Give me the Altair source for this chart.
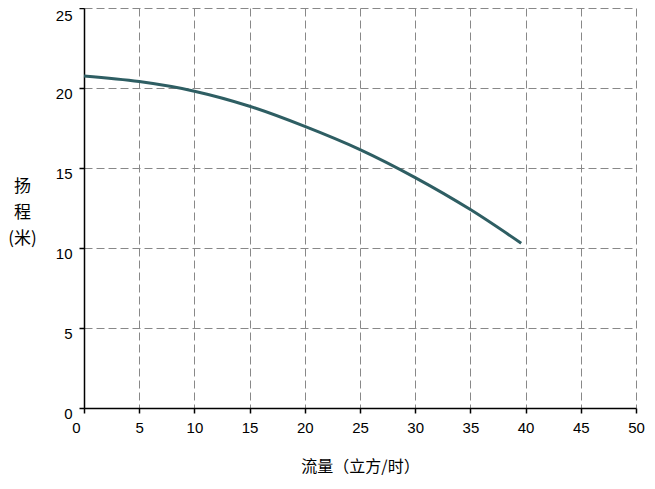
import altair as alt
import pandas as pd

flow = [0, 5, 10, 15, 20, 25, 30, 35, 39.6]
head = [20.75, 20.4, 19.8, 18.86, 17.6, 16.15, 14.4, 12.4, 10.3]
x_ticks = [0, 5, 10, 15, 20, 25, 30, 35, 40, 45, 50]
y_ticks = [0, 5, 10, 15, 20, 25]

df = pd.DataFrame({"flow": flow, "head": head})

x_axis = alt.Axis(
    values=x_ticks, title="流量（立方/时）", titleFont="Noto Sans CJK SC",
    titleFontSize=16, titleFontWeight="normal", titleColor="#000",
    titleY=58, titleBaseline="middle",
    labelFont="Liberation Sans", labelFontSize=15, labelColor="#000",
    labelPadding=7, labelOffset=alt.condition("datum.value == 0", alt.value(-8), alt.value(0)),
    tickSize=5, tickColor="#000", domainColor="#000", domainWidth=1.5, tickWidth=1.5,
    grid=True, gridColor="#888", gridDash=[8, 4], gridWidth=1,
    labelFlush=False,
)
y_axis = alt.Axis(
    values=y_ticks, title=["扬", "程", "(米)"], titleAngle=0, titleX=-62, titleY=178,
    titleAlign="center", titleBaseline="middle", titleLineHeight=26,
    titleFont="Noto Sans CJK SC", titleFontSize=17, titleFontWeight="normal", titleColor="#000",
    labelFont="Liberation Sans", labelFontSize=15, labelColor="#000",
    labelPadding=7, labelOffset=alt.condition("datum.value == 25", alt.value(0), alt.value(5)),
    labelBaseline=alt.condition("datum.value == 25", alt.value("top"), alt.value("middle")),
    tickSize=5, tickColor="#000", domainColor="#000", domainWidth=1.5, tickWidth=1.5,
    grid=True, gridColor="#888", gridDash=[8, 4], gridWidth=1,
    labelFlush=False,
)

chart = alt.Chart(df).mark_line(
    color="#2E5E63", strokeWidth=3, interpolate="monotone"
).encode(
    x=alt.X("flow:Q", scale=alt.Scale(domain=[0, 50], nice=False), axis=x_axis),
    y=alt.Y("head:Q", scale=alt.Scale(domain=[0, 25], nice=False), axis=y_axis),
).properties(
    width=552, height=400,
    autosize=alt.AutoSizeParams(type="none"),
    padding={"left": 76, "top": 0, "right": 10, "bottom": 68},
).configure_view(stroke=None)

chart.save("out.html", embed_options={"renderer": "svg", "actions": False})
